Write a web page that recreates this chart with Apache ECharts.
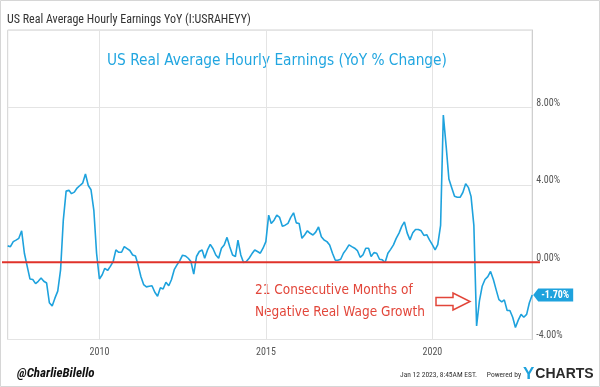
<!DOCTYPE html>
<html>
<head>
<meta charset="utf-8">
<script src="https://cdn.jsdelivr.net/npm/echarts@6/dist/echarts.min.js"></script>
<style>
  html, body { margin: 0; padding: 0; background: #fff; }
  #chart { width: 600px; height: 387px; }
</style>
</head>
<body>
<div id="chart"></div>
<script>
// Monthly YoY % change, first point March 2007, last point December 2022
const startYear = 2007;
const startMonth = 3; // March
const v2007 = [0.84, 0.80, 1.06, 1.14, 1.23, 1.62, 0.46, -0.22, -0.87, -0.90];
const v2008 = [-1.11, -0.99, -0.82, -0.99, -1.08, -2.10, -2.27, -1.85, -1.50, -0.40, 2.17, 3.67];
const v2009 = [3.71, 3.54, 3.62, 3.83, 3.96, 4.08, 4.56, 3.96, 3.74, 2.68, 0.46, -0.87];
const v2010 = [-0.65, -0.32, -0.43, -0.22, 0.03, 0.63, 0.51, 0.51, 0.80, 0.70, 0.60, 0.37];
const v2011 = [0.32, -0.14, -0.74, -1.16, -1.28, -1.25, -1.22, -1.56, -1.76, -1.33, -1.39, -1.04];
const v2012 = [-1.22, -0.91, -0.39, -0.14, 0.08, 0.36, 0.32, 0.20, 0.03, -0.62, 0.29, 0.55];
const v2013 = [0.63, 0.20, 0.63, 0.92, 0.69, 0.37, 0.20, 0.72, 0.89, 1.28, 0.80, 0.37];
const v2014 = [0.29, 1.14, 0.37, -0.02, 0.03, 0.20, 0.43, 0.63, 0.55, 0.46, 0.72, 1.06];
const v2015 = [2.43, 2.00, 2.17, 2.43, 2.31, 1.86, 1.91, 2.00, 2.31, 2.55, 2.03, 2.00];
const v2016 = [1.23, 1.40, 1.62, 1.49, 1.40, 1.55, 1.82, 1.31, 1.14, 1.06, 0.89, 0.46];
const v2017 = [0.10, 0.10, 0.15, 0.46, 0.66, 0.89, 0.80, 0.72, 0.60, 0.25, 0.37, 0.72];
const v2018 = [0.72, 0.29, 0.49, 0.46, 0.15, 0.12, -0.02, 0.46, 0.66, 0.89, 1.23, 1.50];
const v2019 = [1.86, 2.08, 1.50, 1.15, 1.52, 1.69, 1.69, 1.62, 1.38, 1.42, 1.15, 0.90];
const v2020 = [0.63, 0.90, 1.90, 7.60, 6.00, 4.30, 3.85, 3.40, 3.35, 3.35, 3.60, 4.05];
const v2021 = [3.85, 3.40, 1.90, -3.30, -2.00, -1.25, -0.90, -0.75, -0.48, -0.90, -1.42, -1.94];
const v2022 = [-2.05, -1.95, -2.50, -2.50, -2.85, -3.38, -3.00, -2.70, -2.85, -2.70, -2.10, -1.70];

const yoyValues = [].concat(v2007, v2008, v2009, v2010, v2011, v2012, v2013, v2014,
  v2015, v2016, v2017, v2018, v2019, v2020, v2021, v2022);

const xTickYears = [2010, 2015, 2020];
const yTicks = [-4, 0, 4, 8, 12];
const zeroLine = [0, 0];

// month-end timestamps
const seriesData = yoyValues.map((v, k) => [Date.UTC(startYear, startMonth - 1 + k + 1, 0), v]);
const lastPoint = seriesData[seriesData.length - 1];
const xMin = seriesData[0][0];
const xMax = lastPoint[0];
const xTickValues = xTickYears.map(y => Date.UTC(y, 0, 1));

const narrow = "'Liberation Sans Narrow', 'Roboto Condensed', 'DejaVu Sans Condensed', sans-serif";
const hand = "'Segoe Print', 'DejaVu Sans Condensed', sans-serif";
const blue = '#1ea2dd';
const red = '#e0322a';

const chart = echarts.init(document.getElementById('chart'), null, { renderer: 'canvas' });

chart.setOption({
  animation: false,
  backgroundColor: '#fff',
  grid: [
    { left: 7.7, right: 67.8, top: 30, bottom: 47.5, show: true, borderColor: '#d2d2d2', borderWidth: 1 },
    { left: 2, right: 60, top: 30, bottom: 47.5, show: false }
  ],
  xAxis: [
    {
      type: 'value', gridIndex: 0, min: xMin, max: xMax,
      axisLine: { show: true, lineStyle: { color: '#cfcfcf' } },
      axisTick: { show: false, customValues: xTickValues },
      axisLabel: {
        customValues: xTickValues,
        formatter: v => String(new Date(v).getUTCFullYear()),
        color: '#555', fontSize: 10, fontFamily: narrow, margin: 8
      },
      splitLine: { show: true, lineStyle: { color: '#e4e4e4', width: 1 } }
    },
    { type: 'value', gridIndex: 1, min: 0, max: 1, show: false }
  ],
  yAxis: [
    {
      type: 'value', gridIndex: 0, position: 'right', min: yTicks[0], max: yTicks[yTicks.length - 1], interval: 4,
      axisLine: { show: true, lineStyle: { color: '#cfcfcf' } },
      axisTick: { show: false },
      axisLabel: {
        showMaxLabel: false,
        formatter: v => v.toFixed(2) + '%',
        color: '#555', fontSize: 10, fontFamily: narrow, margin: 4,
        verticalAlign: 'bottom', lineHeight: 8
      },
      splitLine: { show: true, lineStyle: { color: '#e4e4e4', width: 1 } }
    },
    { type: 'value', gridIndex: 1, min: yTicks[0], max: yTicks[yTicks.length - 1], show: false }
  ],
  series: [
    {
      type: 'line', xAxisIndex: 0, yAxisIndex: 0,
      data: seriesData,
      showSymbol: false, symbol: 'none',
      lineStyle: { color: blue, width: 1.6 },
      z: 3,
      markPoint: {
        silent: true,
        symbol: 'path://M0,6.5L5,0H40V13H5Z',
        symbolSize: [40, 13],
        symbolOffset: [21, 0],
        itemStyle: { color: blue },
        label: {
          show: true, position: 'inside', offset: [2, 0],
          formatter: p => p.value.toFixed(2) + '%',
          color: '#fff', fontSize: 10, fontWeight: 'bold', fontFamily: narrow
        },
        data: [{ coord: lastPoint, value: lastPoint[1] }]
      }
    },
    {
      type: 'line', xAxisIndex: 1, yAxisIndex: 1,
      data: [[0, zeroLine[0]], [1, zeroLine[1]]],
      showSymbol: false, symbol: 'none', silent: true,
      lineStyle: { color: red, width: 2 },
      z: 5
    }
  ],
  graphic: [
    { type: 'rect', shape: { x: 0.5, y: 0.5, width: 599, height: 386 }, style: { fill: 'none', stroke: '#d6d6d6', lineWidth: 1 }, silent: true },
    { type: 'text', x: 7, y: 20, style: { text: 'US Real Average Hourly Earnings YoY (I:USRAHEYY)', font: "12px " + narrow, fill: '#333', verticalAlign: 'middle' } },
    { type: 'text', x: 107, y: 61, style: { text: 'US Real Average Hourly Earnings (YoY % Change)', font: "15.3px " + hand, fill: '#22a6e0', verticalAlign: 'middle' } },
    { type: 'text', x: 255, y: 290, style: { text: '21 Consecutive Months of', font: "13.5px " + hand, fill: '#e2463a', verticalAlign: 'middle' } },
    { type: 'text', x: 255, y: 312, style: { text: 'Negative Real Wage Growth', font: "13.5px " + hand, fill: '#e2463a', verticalAlign: 'middle' } },
    { type: 'polygon', shape: { points: [[436, 297.5], [453, 297.5], [453, 293], [470, 301.5], [453, 310], [453, 305.5], [436, 305.5]] }, style: { fill: '#fff', stroke: '#e2463a', lineWidth: 1.5 } },
    { type: 'text', x: 17, y: 374, style: { text: '@CharlieBilello', font: "italic bold 13px " + narrow, fill: '#111', verticalAlign: 'middle' } },
    { type: 'text', x: 400, y: 375, style: { text: 'Jan 12 2023, 8:45AM EST.', font: "7.5px " + narrow, fill: '#333', verticalAlign: 'middle' } },
    { type: 'text', x: 521, y: 375, style: { text: 'Powered by', font: "7.5px " + narrow, fill: '#333', verticalAlign: 'middle', align: 'right' } },
    { type: 'text', x: 523, y: 374, style: {
        text: '{y|Y}{c|CHARTS}', verticalAlign: 'middle',
        rich: {
          y: { fill: '#1ea2dd', font: "bold 17px 'Liberation Sans', sans-serif" },
          c: { fill: '#2b2b2b', font: "bold 14px 'Liberation Sans', sans-serif", padding: [0, 0, 0, 1] }
        }
    } }
  ]
});
</script>
</body>
</html>
